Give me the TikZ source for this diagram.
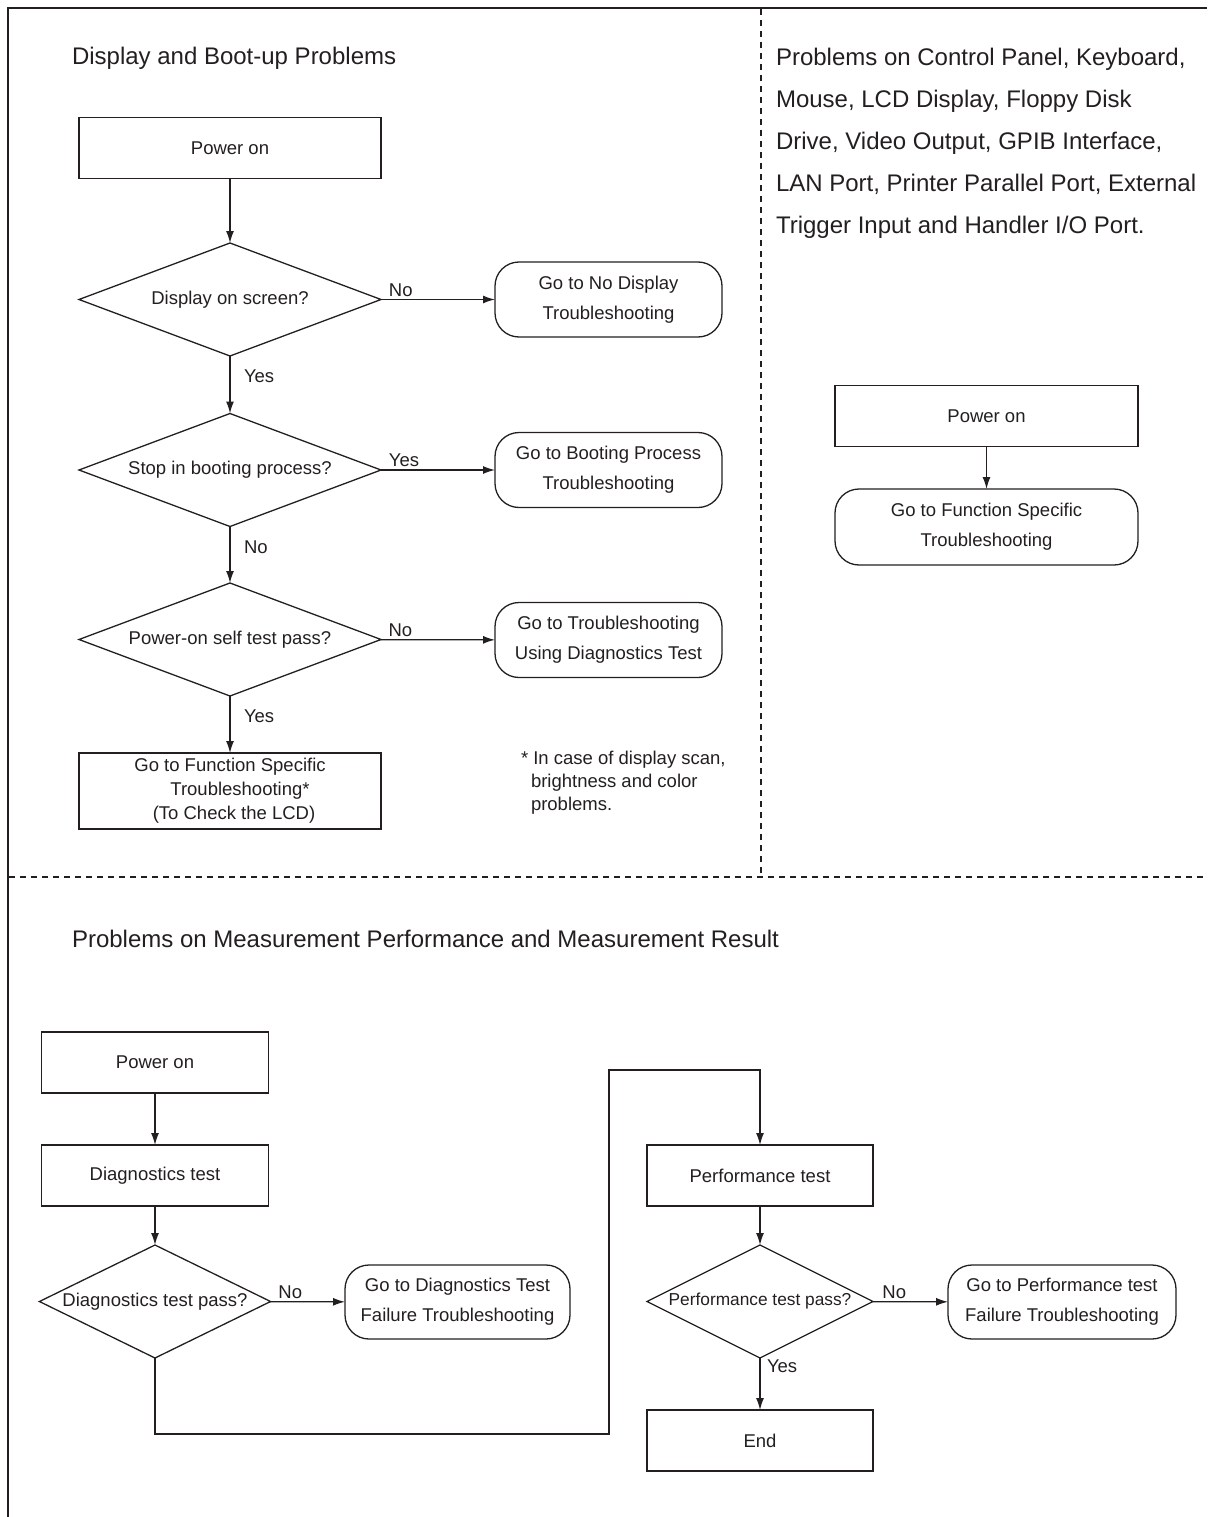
\documentclass[tikz,border=0pt]{standalone}
\usepackage{fontspec}
\setmainfont{Liberation Sans}
\usetikzlibrary{arrows.meta,shapes.geometric}
\definecolor{ink}{HTML}{231F20}
\begin{document}
\begin{tikzpicture}[x=1pt,y=-1pt,
  every node/.style={inner sep=0pt,outer sep=0pt,text=ink},
  nodefont/.style={font=\fontsize{18.5}{30}\selectfont},
  headfont/.style={font=\fontsize{24}{42}\selectfont},
  lbl/.style={font=\fontsize{18.5}{22}\selectfont,anchor=west},
  procbox/.style={draw=ink,line width=1.3pt,rectangle,minimum height=61pt,align=center,nodefont},
  termbox/.style={draw=ink,line width=1.3pt,rectangle,rounded corners=24pt,minimum height=75pt,align=center,nodefont},
  decision/.style={draw=ink,line width=1.3pt,diamond,aspect=2.67,align=center,nodefont},
  conn/.style={draw=ink,line width=1.3pt,-{Latex[length=12pt,width=8pt]}},
  frameline/.style={draw=ink,line width=2pt},
  sepline/.style={draw=ink,line width=2pt,dash pattern=on 6pt off 5pt}
]
\useasboundingbox (0,0) rectangle (1207,1517);
% frame and separators
\coordinate (fTL) at (8,8);
\coordinate (fBL) at (8,1517);
\coordinate (fTR) at (1207,8);
\draw[frameline] (fBL) -- (fTL) -- (fTR);
\coordinate (vTop) at (761,9);
\coordinate (vBot) at (761,877);
\coordinate (hL) at (9,877);
\coordinate (hR) at (1207,877);
\draw[sepline] (vTop) -- (vBot);
\draw[sepline] (hL) -- (hR);

% ---------- top left ----------
\node[headfont,anchor=west] (h1) at (72,58) {Display and Boot-up Problems};
\node[procbox,minimum width=302pt] (p1) at (230,148) {Power on};
\node[decision,minimum width=302pt,minimum height=113pt] (d1) at (230,299.5) {Display on screen?};
\node[termbox,minimum width=227pt] (t1) at (608.5,299.5) {Go to No Display\\Troubleshooting};
\node[decision,minimum width=302pt,minimum height=113pt] (d2) at (230,470) {Stop in booting process?};
\node[termbox,minimum width=227pt] (t2) at (608.5,470) {Go to Booting Process\\Troubleshooting};
\node[decision,minimum width=302pt,minimum height=113pt] (d3) at (230,639.5) {Power-on self test pass?};
\node[termbox,minimum width=227pt] (t3) at (608.5,640) {Go to Troubleshooting\\Using Diagnostics Test};
\node[procbox,minimum width=302pt,minimum height=76pt,font=\fontsize{18.5}{24}\selectfont] (p2) at (230,791)
  {Go to Function Specific\\\hspace*{20pt}Troubleshooting*\\\hspace*{8pt}(To Check the LCD)};
\node[font=\fontsize{18.5}{23}\selectfont,align=left,anchor=north west] (fn) at (521,751)
  {* In case of display scan,\\\hspace*{10pt}brightness and color\\\hspace*{10pt}problems.};

\draw[conn] (p1) -- (d1);
\draw[conn] (d1) -- node[lbl,pos=0.07,above=3pt,anchor=south west] {No} (t1);
\draw[conn] (d1) -- node[lbl,right=14pt,pos=0.36] {Yes} (d2);
\draw[conn] (d2) -- node[lbl,pos=0.07,above=3pt,anchor=south west] {Yes} (t2);
\draw[conn] (d2) -- node[lbl,right=14pt,pos=0.36] {No} (d3);
\draw[conn] (d3) -- node[lbl,pos=0.07,above=3pt,anchor=south west] {No} (t3);
\draw[conn] (d3) -- node[lbl,right=14pt,pos=0.36] {Yes} (p2);

% ---------- top right ----------
\node[headfont,anchor=north west,align=left] (h2) at (776,48)
  {Problems on Control Panel, Keyboard,\\Mouse, LCD Display, Floppy Disk\\Drive, Video Output, GPIB Interface,\\LAN Port, Printer Parallel Port, External\\Trigger Input and Handler I/O Port.};
\node[procbox,minimum width=303pt] (p3) at (986.5,416) {Power on};
\node[termbox,minimum width=303pt,minimum height=76pt] (t4) at (986.5,527) {Go to Function Specific\\Troubleshooting};
\draw[conn] (p3) -- (t4);

% ---------- bottom ----------
\node[headfont,anchor=west] (h3) at (72,939) {Problems on Measurement Performance and Measurement Result};
\node[procbox,minimum width=227pt] (b1) at (155,1062.5) {Power on};
\node[procbox,minimum width=227pt] (b2) at (155,1175.5) {Diagnostics test};
\node[decision,minimum width=227pt,minimum height=113pt] (b3) at (155,1301.5) {Diagnostics test pass?};
\node[termbox,minimum width=225pt,minimum height=74pt] (b4) at (457.5,1302) {Go to Diagnostics Test\\Failure Troubleshooting};
\node[procbox,minimum width=226pt] (b5) at (760,1175.5) {Performance test};
\node[decision,minimum width=226pt,minimum height=113pt,font=\fontsize{17.3}{22}\selectfont] (b6) at (760,1301.5) {Performance test pass?};
\node[termbox,minimum width=228pt,minimum height=74pt] (b7) at (1062,1302) {Go to Performance test\\Failure Troubleshooting};
\node[procbox,minimum width=226pt] (b8) at (760,1440.5) {End};

\coordinate (r1) at (155,1434);
\coordinate (r2) at (609,1434);
\coordinate (r3) at (609,1070);
\coordinate (r4) at (760,1070);

\draw[conn] (b1) -- (b2);
\draw[conn] (b2) -- (b3);
\draw[conn] (b3) -- node[lbl,pos=0.11,above=3pt,anchor=south west] {No} (b4);
\draw[conn] (b3.south) -- (r1) -- (r2) -- (r3) -- (r4) -- (b5.north);
\draw[conn] (b5) -- (b6);
\draw[conn] (b6) -- node[lbl,pos=0.13,above=3pt,anchor=south west] {No} (b7);
\draw[conn] (b6) -- node[lbl,right=7pt,pos=0.15] {Yes} (b8);
\end{tikzpicture}
\end{document}
